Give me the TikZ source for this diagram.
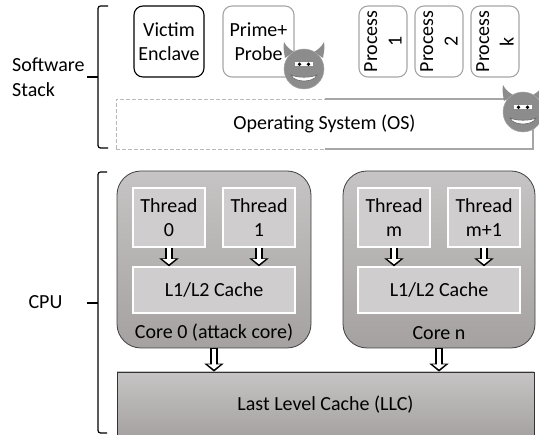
\documentclass[tikz,border=0pt]{standalone}
\usepackage{fontspec}
\setmainfont{Carlito}
\usetikzlibrary{arrows.meta}
\definecolor{coretop}{HTML}{C6C4C4}
\definecolor{corebot}{HTML}{A5A1A0}
\definecolor{threadfill}{HTML}{CFCDCD}
\definecolor{softedge}{HTML}{A6A6A6}
\definecolor{devilfill}{HTML}{8C8C8C}
\begin{document}
\begin{tikzpicture}[
		x=1pt, y=-1pt,
		every node/.style={font=\fontsize{20}{24.5}\selectfont, align=center, inner sep=0pt},
		rec/.style = {rectangle, rounded corners=9pt, minimum height=71pt},
		victim/.style = {rec, draw=black, line width=1.1pt, minimum width=70pt},
		spy/.style = {rec, draw=softedge, line width=1.1pt, minimum width=71pt, fill=white},
		proc/.style = {rotate=90, rounded corners=9pt, draw=softedge, line width=1.1pt, minimum width=71pt, minimum height=48pt},
		core/.style = {draw=black!75, line width=.8pt, rounded corners=24pt, top color=coretop, bottom color=corebot, minimum height=177pt},
		hw/.style = {draw=white, line width=1.2pt, fill=threadfill},
		thread/.style = {hw, minimum width=72pt, minimum height=59pt},
		l12/.style = {hw, minimum width=162pt, minimum height=46pt},
		tag/.style = {},
		brace/.style = {draw=black, line width=1.2pt, rounded corners=2.5pt},
		flow/.style = {draw=black, line width=7.5pt, -{Triangle[length=8pt,width=19pt]},
			postaction={draw=white, line width=4pt, shorten <=.8pt, shorten >=2.2pt, -{Triangle[length=5pt,width=12.5pt,fill=white]}}},
		devil/.pic = {
			\fill[devilfill] (-19,-11) .. controls (-20,-17) and (-21,-22) .. (-20,-27) .. controls (-18,-23) and (-15,-20) .. (-10,-17) -- cycle;
			\fill[devilfill] (19,-11) .. controls (20,-17) and (21,-22) .. (20,-27) .. controls (18,-23) and (15,-20) .. (10,-17) -- cycle;
			\draw[fill=devilfill, draw=black!35, line width=.5pt] (0,0) circle (20);
			\fill[white] (-9,-7) rectangle (9,-2.5);
			\fill[black] (-4.5,-4.7) circle (1.8) (4.5,-4.7) circle (1.8);
			\draw[fill=white, draw=black!60, line width=.6pt] (-13,6) .. controls (-6,9) and (6,9) .. (13,6) .. controls (10,14) and (-10,14) .. (-13,6) -- cycle;
		},
		>=latex]
		\useasboundingbox (0,0) rectangle (539,435);
		
		% software stack, upper row
		\node[victim] (victim) at (169,41.5) {Victim\\Enclave};
		\node[spy] (prime) at (258.5,41.5) {Prime+\\Probe};
		\node[proc] (p1) at (383,41.5) {Process\\1};
		\node[proc] (p2) at (439,41.5) {Process\\2};
		\node[proc] (pk) at (495,41.5) {Process\\k};
		
		% operating system box, dashed on the left and solid on the right
		\node[draw=softedge!80, dash pattern=on 4pt off 2pt, line width=.7pt, minimum width=417pt, minimum height=50pt] (os) at (324.5,124) {Operating System (OS)};
		\draw[softedge, line width=1.1pt] (325,99) -- (533,99) -- (533,149) -- (325,149);
		
		\pic at (304,69) {devil};
		\pic at (523,112) {devil};
		
		% the two cores
		\node[core, minimum width=194pt] (c0) at (214,259.5) {};
		\node[core, minimum width=192pt] (cn) at (439,259.5) {};
		
		\node[thread] (t0) at (169,217.5) {Thread\\0};
		\node[thread] (t1) at (259,217.5) {Thread\\1};
		\node[l12] (l0) at (214,290) {L1/L2 Cache};
		\node[tag] (name0) at (214,333) {Core 0 (attack core)};
		
		\node[thread] (tm) at (394,217.5) {Thread\\m};
		\node[thread] (tm1) at (484,217.5) {Thread\\m+1};
		\node[l12] (ln) at (439,290) {L1/L2 Cache};
		\node[tag] (namen) at (439,333) {Core n};
		
		\node[draw=black!80, line width=.8pt, top color=coretop, bottom color=corebot, minimum width=417pt, minimum height=66pt] (llc) at (325.5,405) {Last Level Cache (LLC)};
		
		% arrows down to the caches
		\foreach \src/\dst in {t0/l0, t1/l0, tm/ln, tm1/ln, c0/llc, cn/llc}
		\draw[flow] (\src.south) -- (\src.south |- \dst.north);
		
		% braces and their labels
		\coordinate (s1) at (108,6);
		\coordinate (s2) at (108,148);
		\coordinate (s3) at (87,77);
		\coordinate (h1) at (107,172);
		\coordinate (h2) at (107,433);
		\coordinate (h3) at (87,303);
		\draw[brace] (s1) -- (98,6) -- (98,148) -- (s2);
		\draw[brace, rounded corners=0pt] (s3) -- (98,77);
		\draw[brace] (h1) -- (98,172) -- (98,433) -- (h2);
		\draw[brace, rounded corners=0pt] (h3) -- (98,303);
		
		\node[tag, align=left, anchor=west] (soft) at (12,77) {Software\\Stack};
		\node[tag] (cpu) at (45.5,302) {CPU};
\end{tikzpicture}
\end{document}
